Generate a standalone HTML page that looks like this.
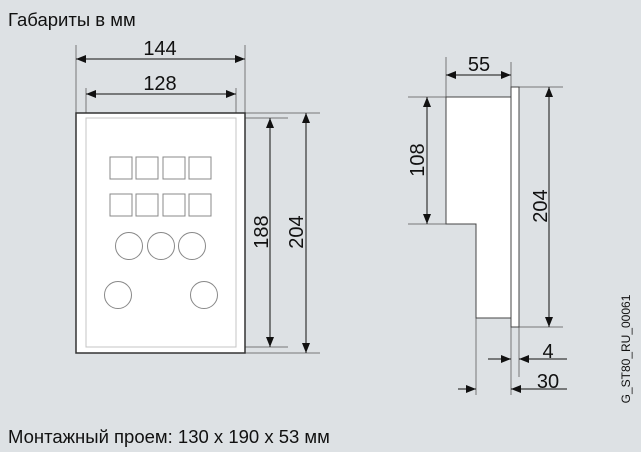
<!DOCTYPE html>
<html><head><meta charset="utf-8"><style>
html,body{margin:0;padding:0;background:#dde1e4;}
svg{display:block;}
text{font-family:"Liberation Sans",sans-serif;fill:#111;}
</style></head><body>
<svg width="641" height="452" viewBox="0 0 641 452" xmlns="http://www.w3.org/2000/svg">
<defs>
<marker id="a" markerWidth="10" markerHeight="8" refX="10" refY="4" orient="auto" markerUnits="userSpaceOnUse">
<path d="M0,0 L10,4 L0,8 z" fill="#111"/></marker>
<marker id="b" markerWidth="10" markerHeight="8" refX="0" refY="4" orient="auto" markerUnits="userSpaceOnUse">
<path d="M10,0 L0,4 L10,8 z" fill="#111"/></marker>
</defs>
<rect width="641" height="452" fill="#dde1e4"/>
<text x="8" y="26" font-size="18.5">Габариты в мм</text>
<text x="8" y="443" font-size="18.5">Монтажный проем: 130 x 190 x 53 мм</text>
<text font-size="12" transform="translate(630,349) rotate(-90)" text-anchor="middle">G_ST80_RU_00061</text>

<g stroke="#777" stroke-width="1" fill="none">
<line x1="76" y1="45" x2="76" y2="113"/>
<line x1="245" y1="45" x2="245" y2="113"/>
<line x1="86" y1="88" x2="86" y2="118"/>
<line x1="236" y1="88" x2="236" y2="118"/>
<line x1="245" y1="118" x2="288" y2="118"/>
<line x1="245" y1="347" x2="288" y2="347"/>
<line x1="245" y1="113" x2="320" y2="113"/>
<line x1="245" y1="353" x2="320" y2="353"/>
</g>
<rect x="76" y="113" width="169" height="240" fill="#fff" stroke="#333" stroke-width="1.5"/>
<rect x="86" y="118" width="150" height="229" fill="none" stroke="#c4c4c4" stroke-width="1"/>
<g fill="none" stroke="#888" stroke-width="1">
<rect x="110" y="157" width="22" height="22"/><rect x="136" y="157" width="22" height="22"/>
<rect x="163" y="157" width="22" height="22"/><rect x="189" y="157" width="22" height="22"/>
<rect x="110" y="194" width="22" height="22"/><rect x="136" y="194" width="22" height="22"/>
<rect x="163" y="194" width="22" height="22"/><rect x="189" y="194" width="22" height="22"/>
<circle cx="129" cy="246" r="13.5"/><circle cx="161" cy="246" r="13.5"/><circle cx="192" cy="246" r="13.5"/>
<circle cx="118" cy="295" r="13.5"/><circle cx="204" cy="295" r="13.5"/>
</g>
<g stroke="#111" stroke-width="1">
<line x1="76" y1="59" x2="245" y2="59" marker-start="url(#b)" marker-end="url(#a)"/>
<line x1="86" y1="94" x2="236" y2="94" marker-start="url(#b)" marker-end="url(#a)"/>
<line x1="270" y1="118" x2="270" y2="347" marker-start="url(#b)" marker-end="url(#a)"/>
<line x1="306" y1="113" x2="306" y2="353" marker-start="url(#b)" marker-end="url(#a)"/>
</g>
<text x="160" y="55" font-size="20" text-anchor="middle">144</text>
<text x="160" y="90" font-size="20" text-anchor="middle">128</text>
<text font-size="20" text-anchor="middle" transform="translate(268,232) rotate(-90)">188</text>
<text font-size="20" text-anchor="middle" transform="translate(303,232) rotate(-90)">204</text>

<g stroke="#777" stroke-width="1" fill="none">
<line x1="446" y1="57" x2="446" y2="97"/>
<line x1="511" y1="62" x2="511" y2="87"/>
<line x1="408" y1="97" x2="446" y2="97"/>
<line x1="408" y1="224" x2="446" y2="224"/>
<line x1="519" y1="87" x2="563" y2="87"/>
<line x1="519" y1="327" x2="563" y2="327"/>
<line x1="511" y1="327" x2="511" y2="395"/>
<line x1="519" y1="327" x2="519" y2="377"/>
<line x1="476" y1="318" x2="476" y2="395"/>
</g>
<path d="M446,97 H511 V318 H476 V224 H446 Z" fill="#fff" stroke="#444" stroke-width="1"/>
<rect x="511" y="87" width="8" height="240" fill="#fff" stroke="#444" stroke-width="1"/>
<g stroke="#111" stroke-width="1">
<line x1="446" y1="75" x2="511" y2="75" marker-start="url(#b)" marker-end="url(#a)"/>
<line x1="427" y1="97" x2="427" y2="224" marker-start="url(#b)" marker-end="url(#a)"/>
<line x1="549" y1="87" x2="549" y2="327" marker-start="url(#b)" marker-end="url(#a)"/>
<line x1="488" y1="359" x2="511" y2="359" marker-end="url(#a)"/>
<line x1="567" y1="359" x2="519" y2="359" marker-end="url(#a)"/>
<line x1="458" y1="389" x2="476" y2="389" marker-end="url(#a)"/>
<line x1="567" y1="389" x2="511" y2="389" marker-end="url(#a)"/>
</g>
<text x="479" y="71" font-size="20" text-anchor="middle">55</text>
<text font-size="20" text-anchor="middle" transform="translate(424,160) rotate(-90)">108</text>
<text font-size="20" text-anchor="middle" transform="translate(547,206) rotate(-90)">204</text>
<text x="548" y="358" font-size="20" text-anchor="middle">4</text>
<text x="548" y="388" font-size="20" text-anchor="middle">30</text>
</svg>
</body></html>
